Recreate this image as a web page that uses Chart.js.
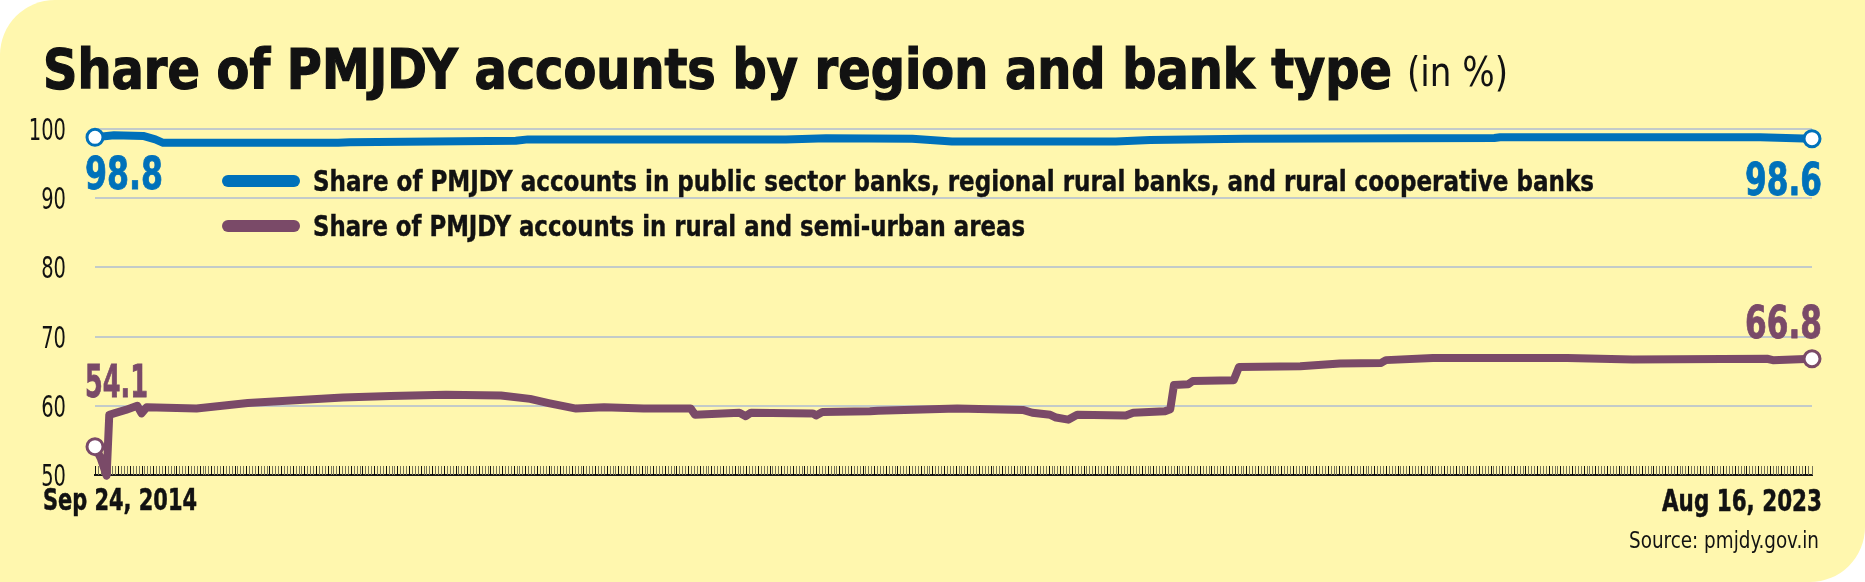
<!DOCTYPE html>
<html><head><meta charset="utf-8">
<script src="https://cdn.jsdelivr.net/npm/chart.js@4.4.0/dist/chart.umd.min.js"></script>
<style>
html,body{margin:0;padding:0;background:#ffffff;}
#wrap{position:relative;width:1865px;height:582px;background:#fff7ae;border-radius:55px 0 55px 0;overflow:hidden;}
#c{position:absolute;left:0;top:0;}
#ov{position:absolute;left:0;top:0;pointer-events:none;}
</style></head><body>
<div id="wrap">
<canvas id="c" width="1865" height="582"></canvas>
<svg id="ov" width="1865" height="582" xmlns="http://www.w3.org/2000/svg"></svg>
</div>
<script>
// ---------- DATA ----------
const chartTitle = "Share of PMJDY accounts by region and bank type";
const chartUnit = "(in %)";
const seriesNames = [
  "Share of PMJDY accounts in public sector banks, regional rural banks, and rural cooperative banks",
  "Share of PMJDY accounts in rural and semi-urban areas"
];
const xTickLabels = ["Sep 24, 2014", "Aug 16, 2023"];
const totalDays = 3248;           // days from Sep 24, 2014 to Aug 16, 2023
const yTicks = [50, 60, 70, 80, 90, 100];
const sourceText = "Source: pmjdy.gov.in";

// Series 1: public sector, RRB and rural cooperative banks (days since Sep 24, 2014)
const bankDays  = [0, 36, 91, 114, 129, 460, 482, 796, 819, 1307, 1383, 1546, 1621, 1931, 1996, 2174, 2647, 2658, 3150, 3248];
const bankShare = [98.8, 99.1, 99.0, 98.5, 98.0, 98.0, 98.1, 98.3, 98.5, 98.5, 98.65, 98.6, 98.2, 98.2, 98.4, 98.6, 98.7, 98.8, 98.8, 98.6];

// Series 2: rural and semi-urban areas
const ruralDays  = [0, 11, 22, 27, 36, 58, 80, 88, 98, 192, 289, 469, 559, 664, 768, 823, 858, 910, 963, 1038, 1127, 1135, 1219, 1231, 1241, 1358, 1364, 1376, 1466, 1481, 1631, 1755, 1773, 1807, 1818, 1841, 1858, 1950, 1964, 2024, 2034, 2041, 2068, 2077, 2154, 2164, 2280, 2355, 2433, 2442, 2531, 2785, 2909, 3163, 3174, 3248];
const ruralShare = [54.1, 52.4, 49.9, 58.7, 58.9, 59.4, 60.0, 58.9, 59.8, 59.6, 60.4, 61.2, 61.4, 61.6, 61.5, 61.0, 60.4, 59.6, 59.8, 59.6, 59.6, 58.7, 59.0, 58.5, 59.0, 58.9, 58.6, 59.1, 59.2, 59.3, 59.6, 59.4, 59.0, 58.7, 58.3, 58.0, 58.7, 58.6, 59.0, 59.2, 59.5, 63.0, 63.1, 63.6, 63.7, 65.6, 65.7, 66.1, 66.2, 66.6, 66.9, 66.9, 66.7, 66.8, 66.6, 66.8];

const endLabels = [
  ["98.8", "98.6"],
  ["54.1", "66.8"]
];

// ---------- STYLE ----------
const FONT = "'Liberation Sans Narrow','DejaVu Sans Condensed','Roboto Condensed','Liberation Sans',sans-serif";
const BLUE = "#0071ba";
const PURPLE = "#7a4a68";
const INK = "#121212";
const SVGNS = "http://www.w3.org/2000/svg";
const ov = document.getElementById('ov');

function svgText(txt, o) {
  const t = document.createElementNS(SVGNS, 'text');
  t.textContent = txt;
  t.setAttribute('x', o.x || 0);
  t.setAttribute('y', o.y || 0);
  t.setAttribute('font-family', FONT);
  t.setAttribute('font-size', o.size);
  t.setAttribute('font-weight', o.weight || 'normal');
  t.setAttribute('fill', o.fill || INK);
  t.setAttribute('text-anchor', o.anchor || 'start');
  if (o.len) { t.setAttribute('textLength', o.len); t.setAttribute('lengthAdjust', 'spacingAndGlyphs'); }
  if (o.stroke) { t.setAttribute('stroke', o.fill || INK); t.setAttribute('stroke-width', o.stroke); }
  ov.appendChild(t);
  return t;
}
function svgLine(x1, x2, y, color) {
  const l = document.createElementNS(SVGNS, 'line');
  l.setAttribute('x1', x1); l.setAttribute('x2', x2);
  l.setAttribute('y1', y); l.setAttribute('y2', y);
  l.setAttribute('stroke', color); l.setAttribute('stroke-width', 12);
  l.setAttribute('stroke-linecap', 'round');
  ov.appendChild(l);
}

// Title
svgText(chartTitle, {x: 43, y: 88, size: 55, weight: 'bold', len: 1349, stroke: 1.2});
svgText(chartUnit, {x: 1407, y: 86, size: 40, len: 101});
// Legend
svgLine(228, 294, 181, BLUE);
svgLine(228, 294, 226, PURPLE);
svgText(seriesNames[0], {x: 313, y: 191, size: 28, weight: 'bold', len: 1281, stroke: 0.4});
svgText(seriesNames[1], {x: 313, y: 236, size: 28, weight: 'bold', len: 712, stroke: 0.4});
// X labels
svgText(xTickLabels[0], {x: 43, y: 510, size: 31, weight: 'bold', len: 154, stroke: 0.5});
svgText(xTickLabels[1], {x: 1822, y: 511, size: 31, weight: 'bold', len: 160, anchor: 'end', stroke: 0.5});
// Source
svgText(sourceText, {x: 1819, y: 548, size: 23, len: 190, anchor: 'end'});

// value labels (positioned from the chart's own points)
const valueLabelStyle = [
  {first: {dx: -10, dy: 52, len: 78}, last: {dx: 10, dy: 56, len: 77}},
  {first: {dx: -10, dy: -50, len: 63}, last: {dx: 10, dy: -21, len: 77}}
];
const valueLabelEls = [0, 1].map(i => {
  const col = i === 0 ? BLUE : PURPLE;
  return [
    svgText(endLabels[i][0], {size: 44, weight: 'bold', fill: col, len: valueLabelStyle[i].first.len, stroke: 0.8}),
    svgText(endLabels[i][1], {size: 44, weight: 'bold', fill: col, len: valueLabelStyle[i].last.len, anchor: 'end', stroke: 0.8})
  ];
});
// y tick labels (text elements placed through the y scale)
const yLabelEls = yTicks.map(v => svgText(String(v), {size: 30, anchor: 'end', len: String(v).length * 12.4}));

const axisTicksPlugin = {
  id: 'axisTicks',
  beforeDatasetsDraw(chart) {
    const s = chart.scales.x, ctx = chart.ctx, b = chart.chartArea.bottom;
    ctx.save();
    ctx.lineWidth = 1;
    s.ticks.forEach((t, i) => {
      const x = Math.round(s.getPixelForValue(t.value)) + 0.5;
      ctx.strokeStyle = (i % 4 === 0) ? '#141414' : '#76745a';
      ctx.beginPath(); ctx.moveTo(x, b - 9); ctx.lineTo(x, b); ctx.stroke();
    });
    ctx.restore();
  }
};
const labelPlugin = {
  id: 'valueLabels',
  afterDraw(chart) {
    [0, 1].forEach(i => {
      const pts = chart.getDatasetMeta(i).data;
      const f = pts[0], l = pts[pts.length - 1];
      const st = valueLabelStyle[i];
      valueLabelEls[i][0].setAttribute('x', f.x + st.first.dx);
      valueLabelEls[i][0].setAttribute('y', f.y + st.first.dy);
      valueLabelEls[i][1].setAttribute('x', l.x + st.last.dx);
      valueLabelEls[i][1].setAttribute('y', l.y + st.last.dy);
    });
    const ys = chart.scales.y;
    yTicks.forEach((v, i) => {
      yLabelEls[i].setAttribute('x', ys.left + 66);
      yLabelEls[i].setAttribute('y', ys.getPixelForValue(v) + 11);
    });
  }
};

function makeDataset(days, vals, color) {
  const n = days.length;
  return {
    data: days.map((d, i) => ({x: d, y: vals[i]})),
    borderColor: color,
    borderWidth: 8,
    borderJoinStyle: 'round',
    borderCapStyle: 'round',
    tension: 0,
    clip: false,
    pointRadius: c => (c.dataIndex === 0 || c.dataIndex === n - 1) ? 8 : 0,
    pointBackgroundColor: '#ffffff',
    pointBorderColor: color,
    pointBorderWidth: 3
  };
}

new Chart(document.getElementById('c'), {
  type: 'line',
  data: {
    datasets: [
      makeDataset(bankDays, bankShare, BLUE),
      makeDataset(ruralDays, ruralShare, PURPLE)
    ]
  },
  options: {
    responsive: false,
    animation: false,
    devicePixelRatio: 1,
    layout: {padding: {left: 0, right: 53, top: 129, bottom: 0}},
    plugins: {legend: {display: false}, tooltip: {enabled: false}},
    scales: {
      x: {
        type: 'linear', min: 0, max: totalDays,
        ticks: {display: false, stepSize: 5.5},
        grid: {display: false},
        border: {display: true, color: '#151515', width: 2},
        afterFit(s) { s.height = 107; }
      },
      y: {
        min: 50, max: 100,
        afterBuildTicks(s) { s.ticks = yTicks.map(v => ({value: v})); },
        ticks: {display: false},
        grid: {drawTicks: false, lineWidth: 2, color: c => (c.tick && c.tick.value === 50) ? 'rgba(0,0,0,0)' : '#c3cbc9'},
        border: {display: false},
        afterFit(s) { s.width = 95; }
      }
    }
  },
  plugins: [axisTicksPlugin, labelPlugin]
});
</script>
</body></html>
